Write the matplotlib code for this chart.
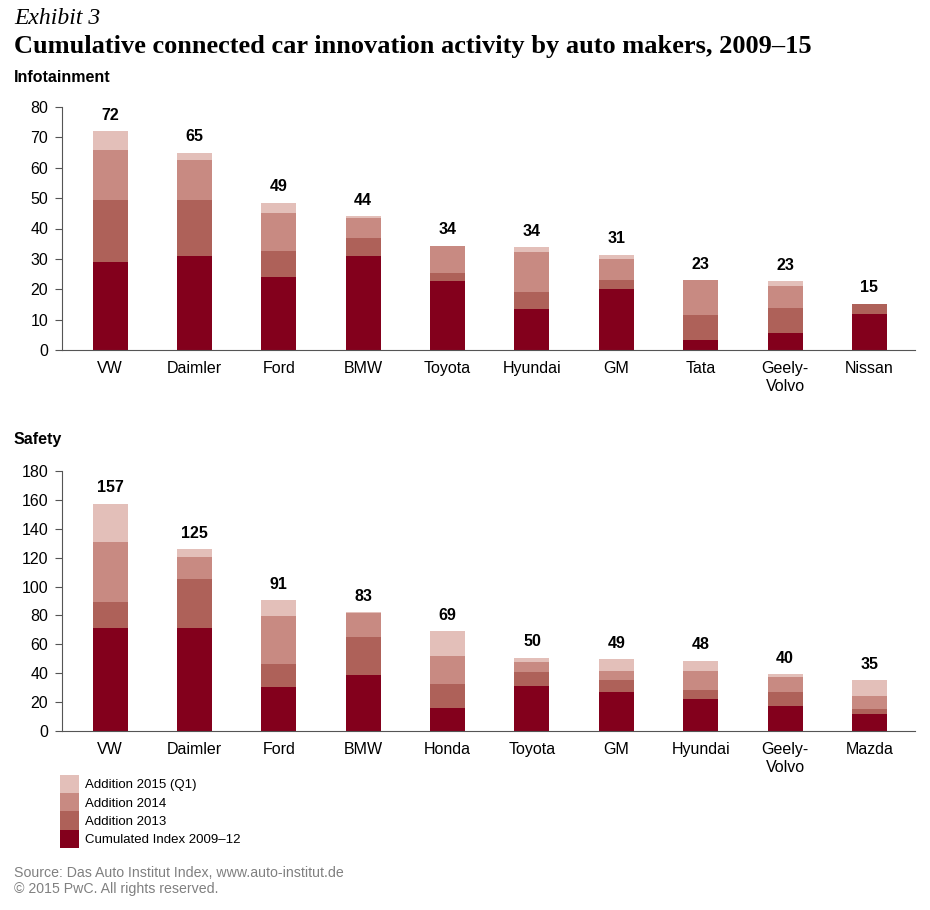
import matplotlib
matplotlib.use("Agg")
import matplotlib.pyplot as plt
from matplotlib.patches import Patch
import numpy as np

plt.rcParams['font.family'] = ['Liberation Sans', 'DejaVu Sans']

# Infotainment
info_makers = ["VW", "Daimler", "Ford", "BMW", "Toyota", "Hyundai", "GM", "Tata", "Geely-\nVolvo", "Nissan"]
info_base = [29, 31, 24, 31, 22.6, 13.4, 20.2, 3.2, 5.5, 12]
info_2013 = [20.5, 18.5, 8.5, 6, 2.9, 5.6, 2.8, 8.2, 8.3, 3.3]
info_2014 = [16.5, 13, 12.5, 6.5, 8.8, 13.2, 6.8, 11.6, 7.4, 0]
info_2015 = [6, 2.5, 3.5, 0.5, 0, 1.6, 1.6, 0, 1.5, 0]
info_total = [72, 65, 49, 44, 34, 34, 31, 23, 23, 15]

# Safety
safe_makers = ["VW", "Daimler", "Ford", "BMW", "Honda", "Toyota", "GM", "Hyundai", "Geely-\nVolvo", "Mazda"]
safe_base = [71.4, 71.4, 30.2, 38.6, 15.7, 31.3, 27.2, 22, 17.5, 11.8]
safe_2013 = [18.2, 33.9, 16.4, 26.5, 16.5, 9.3, 8.1, 6.2, 9.7, 3.2]
safe_2014 = [41, 15.4, 33, 16.9, 19.8, 6.9, 6.2, 13.3, 9.9, 9.2]
safe_2015 = [26.8, 5.1, 11.1, 0.4, 17.2, 3.2, 8.1, 7.1, 2.3, 11.1]
safe_total = [157, 125, 91, 83, 69, 50, 49, 48, 40, 35]

series_names = ["Cumulated Index 2009\u201312", "Addition 2013", "Addition 2014", "Addition 2015 (Q1)"]
colors = ["#83001c", "#ae6159", "#c88a82", "#e3bfb9"]


def stacked(ax, makers, segs, totals, ymax, step):
    x = np.arange(len(makers))
    bottom = np.zeros(len(makers))
    for vals, c in zip(segs, colors):
        ax.bar(x, vals, 0.415, bottom=bottom, color=c, linewidth=0)
        bottom += np.array(vals)
    for xi, top, t in zip(x, bottom, totals):
        ax.annotate(str(t), (xi, top), xytext=(0, 6), textcoords="offset points",
                    ha="center", va="bottom", fontsize=11.5, fontweight="bold")
    ax.set_xlim(-0.57, 9.54)
    ax.set_ylim(0, ymax)
    ax.set_yticks(np.arange(0, ymax + 1, step))
    ax.set_xticks(x, labels=makers)
    for s in ["top", "right"]:
        ax.spines[s].set_visible(False)
    ax.spines["left"].set_color("#555555")
    ax.spines["bottom"].set_color("#555555")
    ax.tick_params(axis="y", length=5, color="#555555", labelsize=11.5, pad=5)
    ax.tick_params(axis="x", length=0, labelsize=11.5, pad=8)


fig = plt.figure(figsize=(9.3, 9.1), dpi=100)

ax1 = fig.add_axes([62 / 930, 1 - 350 / 910, 853 / 930, 243 / 910])
stacked(ax1, info_makers, [info_base, info_2013, info_2014, info_2015], info_total, 80, 10)

ax2 = fig.add_axes([62 / 930, 1 - 731 / 910, 853 / 930, 260 / 910])
stacked(ax2, safe_makers, [safe_base, safe_2013, safe_2014, safe_2015], safe_total, 180, 20)

fig.text(14 / 930, 1 - 18 / 910, "Exhibit 3", family="Liberation Serif", style="italic",
         fontsize=17, va="center")
fig.text(14 / 930, 1 - 46 / 910, "Cumulative connected car innovation activity by auto makers, 2009\u201315",
         family="Liberation Serif", fontweight="bold", fontsize=19, va="center")
fig.text(14 / 930, 1 - 78 / 910, "Infotainment", fontsize=11.5, fontweight="bold", va="center")
fig.text(14 / 930, 1 - 439 / 910, "Safety", fontsize=11.5, fontweight="bold", va="center")

handles = [Patch(facecolor=c, linewidth=0) for c in colors][::-1]
fig.legend(handles, series_names[::-1], loc="upper left", bbox_to_anchor=(60 / 930, 1 - 775 / 910),
           frameon=False, fontsize=9.5, handlelength=1.45, handleheight=1.75,
           labelspacing=0, handletextpad=0.45, borderpad=0, borderaxespad=0)

fig.text(14 / 930, 1 - 873 / 910, "Source: Das Auto Institut Index, www.auto-institut.de",
         fontsize=10.2, color="#808080", va="center")
fig.text(14 / 930, 1 - 889 / 910, "\u00a9 2015 PwC. All rights reserved.",
         fontsize=10.2, color="#808080", va="center")

fig.savefig("out.png", dpi=100)
